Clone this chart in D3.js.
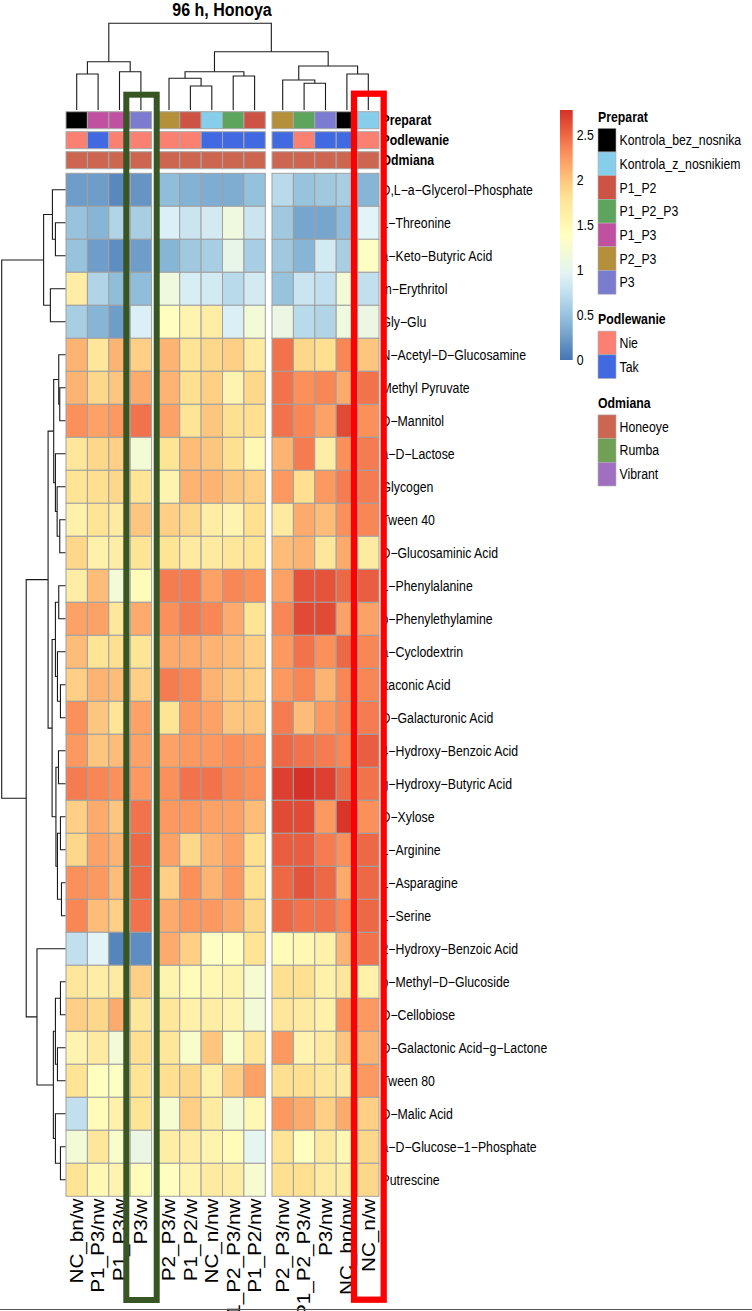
<!DOCTYPE html>
<html><head><meta charset="utf-8">
<script src="https://cdn.jsdelivr.net/npm/d3@7"></script>
<style>body{margin:0;background:#fff}svg{display:block}text{font-family:"Liberation Sans",Arial,sans-serif}</style>
</head><body><svg id="c" width="752" height="1311"></svg>
<script>
// ---------------- DATA ----------------
const title = "96 h, Honoya";
const rowNames = ["D,L-a-Glycerol-Phosphate","L-Threonine","a-Keto-Butyric Acid","m-Erythritol","Gly-Glu",
 "N-Acetyl-D-Glucosamine","Methyl Pyruvate","D-Mannitol","a-D-Lactose","Glycogen","Tween 40",
 "D-Glucosaminic Acid","L-Phenylalanine","b-Phenylethylamine","a-Cyclodextrin","Itaconic Acid",
 "D-Galacturonic Acid","4-Hydroxy-Benzoic Acid","g-Hydroxy-Butyric Acid","D-Xylose","L-Arginine",
 "L-Asparagine","L-Serine","2-Hydroxy-Benzoic Acid","b-Methyl-D-Glucoside","D-Cellobiose",
 "D-Galactonic Acid-g-Lactone","Tween 80","D-Malic Acid","a-D-Glucose-1-Phosphate","Putrescine"];
const colNames = ["NC_bn/w","P1_P3/nw","P1_P3/w","P3/w","P2_P3/w","P1_P2/w","NC_n/nw","P1_P2_P3/nw",
 "P1_P2/nw","P2_P3/nw","P1_P2_P3/w","P3/nw","NC_bn/nw","NC_n/w"];
const colGroupSizes = [4,5,5];
const colPreparat = ["Kontrola_bez_nosnika","P1_P3","P1_P3","P3","P2_P3","P1_P2","Kontrola_z_nosnikiem",
 "P1_P2_P3","P1_P2","P2_P3","P1_P2_P3","P3","Kontrola_bez_nosnika","Kontrola_z_nosnikiem"];
const colPodlewanie = ["Nie","Tak","Nie","Nie","Nie","Nie","Tak","Tak","Tak","Tak","Nie","Tak","Tak","Nie"];
const colOdmiana = ["Honeoye","Honeoye","Honeoye","Honeoye","Honeoye","Honeoye","Honeoye","Honeoye",
 "Honeoye","Honeoye","Honeoye","Honeoye","Honeoye","Honeoye"];
const preparatLevels = ["Kontrola_bez_nosnika","Kontrola_z_nosnikiem","P1_P2","P1_P2_P3","P1_P3","P2_P3","P3"];
const preparatColors = ["#000000","#87CEEB","#CD5445","#5DA55D","#C050A0","#B5903A","#7B7BD0"];
const podlewanieLevels = ["Nie","Tak"];
const podlewanieColors = ["#FA8072","#4169E1"];
const odmianaLevels = ["Honeoye","Rumba","Vibrant"];
const odmianaColors = ["#CC6650","#6FA055","#A070C0"];
const legendTicks = [0,0.5,1,1.5,2,2.5];
const valueRange = [0, 2.78];
const paletteRdYlBu = ["#4575B4","#91BFDB","#E0F3F8","#FFFFBF","#FEE090","#FC8D59","#D73027"];
const values = [
 [0.25,0.25,0.12,0.2, 0.45,0.38,0.35,0.35,0.48, 0.7,0.5,0.55,0.6,0.4],
 [0.5,0.4,0.65,0.6, 0.9,0.8,0.85,1.15,0.8, 0.55,0.3,0.3,0.45,0.95],
 [0.5,0.25,0.15,0.25, 0.4,0.55,0.6,1.05,0.6, 0.55,0.4,0.85,0.6,1.35],
 [1.65,0.65,0.45,0.45, 1.15,0.88,0.85,0.7,0.85, 0.5,0.8,0.75,1.2,0.75],
 [0.6,0.4,0.25,0.9, 1.4,1.55,1.65,0.9,1.2, 1.1,0.7,0.65,1.15,1.1],
 [2.1,1.75,2.1,1.95, 2.1,1.8,1.9,1.95,1.7, 2.45,1.9,1.85,2.35,2.0],
 [2.1,1.9,2.0,2.15, 2.1,1.85,1.95,1.55,1.9, 2.45,2.3,2.35,2.15,2.45],
 [2.3,2.2,2.25,2.45, 2.2,1.8,2.0,1.85,1.85, 2.45,2.35,2.2,2.65,2.3],
 [1.75,1.9,1.95,1.2, 1.8,2.05,2.0,1.85,1.5, 2.1,2.4,1.65,2.3,2.4],
 [1.8,1.85,1.9,1.8, 1.55,2.1,2.1,2.0,1.95, 2.25,1.85,2.25,2.4,2.4],
 [1.6,1.8,1.7,2.0, 1.95,1.9,1.65,1.55,1.85, 1.7,2.15,2.05,2.3,2.35],
 [1.9,1.6,1.65,1.8, 1.8,1.7,1.7,1.75,1.8, 2.05,2.1,1.75,2.15,1.7],
 [1.65,2.05,1.2,1.45, 2.4,2.4,2.2,2.35,2.3, 2.2,2.6,2.6,2.5,2.55],
 [2.2,2.2,1.75,2.15, 2.3,2.4,2.35,2.15,1.8, 2.35,2.65,2.65,2.2,2.2],
 [2.05,1.8,1.85,1.8, 2.15,2.15,2.1,2.05,1.95, 2.25,2.45,2.3,2.5,2.35],
 [1.95,2.1,2.05,1.95, 2.4,2.35,2.1,2.0,1.95, 2.25,2.35,2.1,2.35,2.35],
 [2.3,2.0,1.8,2.2, 1.8,2.25,2.2,2.0,2.0, 2.4,2.05,2.25,2.35,2.4],
 [2.25,2.0,2.05,2.2, 2.2,2.25,2.25,2.3,2.25, 2.5,2.45,2.4,2.35,2.55],
 [2.4,2.35,2.3,2.25, 2.3,2.45,2.45,2.35,2.3, 2.7,2.78,2.7,2.5,2.45],
 [1.95,2.15,2.0,2.45, 2.25,2.25,2.2,2.2,2.05, 2.65,2.65,2.25,2.75,2.3],
 [1.9,2.2,2.1,2.5, 2.2,1.9,2.1,2.2,1.85, 2.55,2.55,2.4,2.3,2.5],
 [2.3,2.25,2.05,2.5, 1.95,2.3,2.1,2.25,1.85, 2.5,2.6,2.5,2.15,2.5],
 [2.35,2.05,1.95,2.45, 2.15,2.25,2.25,2.15,1.9, 2.5,2.45,2.45,2.35,2.5],
 [0.75,0.95,0.1,0.15, 2.15,1.95,1.35,1.4,1.8, 1.45,1.5,1.6,2.1,2.45],
 [1.75,1.65,1.7,1.95, 1.55,1.45,1.5,1.55,1.25, 1.85,1.85,1.6,1.75,1.6],
 [1.95,1.9,2.15,1.75, 1.75,1.6,1.65,1.55,1.2, 1.75,1.7,1.6,2.3,2.25],
 [1.55,1.7,1.2,1.85, 1.75,1.3,2.0,1.3,1.75, 2.25,1.55,1.7,2.0,2.1],
 [1.8,1.4,1.35,1.8, 1.85,1.9,1.6,1.95,2.2, 1.85,1.85,1.75,1.7,2.25],
 [0.75,1.45,1.6,1.8, 1.25,1.95,1.7,1.2,1.5, 2.25,2.15,1.95,2.15,1.95],
 [1.2,1.75,1.3,1.1, 1.65,1.65,1.55,1.45,1.0, 1.8,1.4,1.7,1.5,1.9],
 [1.8,1.5,1.55,1.45, 1.4,1.55,1.7,1.65,1.25, 1.85,1.85,1.7,1.65,1.9]
];
// dendrograms: [mergeHeight, left, right]; leaves = index
const colTree = [10,[5.57,[4.15,0,1],[4.42,2,3]],
  [6.72,[4.42,[3.66,4,[2.77,5,6]],[3.92,7,8]],[5.07,[3.46,9,[3.08,10,11]],[4.15,12,13]]]];
const rowTree = [10,
  [3.43,[2.05,0,[1.58,1,2]],[2.37,3,4]],
  [6.16,
    [2.73,
      [1.85,[1.06,5,[0.9,6,7]],[1.58,8,[1.31,9,[0.9,10,11]]]],
      [2.1,[1.58,[1.06,12,13],[1.26,14,[0.79,15,16]]],[1.5,[1.1,17,18],[1.26,[0.79,19,20],[0.63,21,22]]]]],
    [4.47,23,[1.9,[1.58,[0.79,24,25],[1.26,26,27]],[1.58,28,[0.79,29,30]]]]]];

// ---------------- LAYOUT ----------------
const svg = d3.select("#c");
const FONT = 12.3, SY = 1.15;
const hmLeft = 66, cellW = 21.4, gap = 6.7, hmTop = 173.3, hmBottom = 1196.3;
const groupOf = i => { let s=0; for (let g=0; g<colGroupSizes.length; g++){ s+=colGroupSizes[g]; if(i<s) return g;} return 0; };
const xBand = d3.scaleBand().domain(d3.range(colNames.length)).range([hmLeft, hmLeft + cellW*colNames.length]);
const xPos = i => xBand(i) + groupOf(i)*gap;
const xMid = i => xPos(i) + xBand.bandwidth()/2;
const yBand = d3.scaleBand().domain(d3.range(rowNames.length)).range([hmTop, hmBottom]);
const yMid = i => yBand(i) + yBand.bandwidth()/2;
const color = d3.scaleLinear().domain(d3.range(7).map(k => valueRange[0] + k*(valueRange[1]-valueRange[0])/6)).range(paletteRdYlBu).clamp(true);

function txt(x, y, s, o={}) {
  const t = svg.append("text")
    .attr("transform", o.rot ? `translate(${x},${y}) rotate(-90) scale(${SY},1)` : `translate(${x},${y}) scale(1,${o.sy||SY})`)
    .attr("dy","0.35em").attr("font-size", o.size||FONT).attr("font-weight", o.weight||"normal")
    .attr("text-anchor", o.anchor||"start").attr("fill","#000").text(s);
  return t;
}
const disp = s => s.replace(/-/g, "\u2212");

// title
txt(222, 9.5, title, {size:16, weight:"bold", anchor:"middle", sy:1.1});

// heatmap cells
const cells = svg.append("g");
values.forEach((row, r) => row.forEach((v, c) => {
  cells.append("rect").attr("x", xPos(c)).attr("y", yBand(r)).attr("width", xBand.bandwidth()).attr("height", yBand.bandwidth())
    .attr("fill", color(v)).attr("stroke", "#A0A0A0").attr("stroke-width", 1);
}));

// annotation rows
const annRows = [
  {name:"Preparat", vals:colPreparat, sc:d3.scaleOrdinal(preparatLevels, preparatColors)},
  {name:"Podlewanie", vals:colPodlewanie, sc:d3.scaleOrdinal(podlewanieLevels, podlewanieColors)},
  {name:"Odmiana", vals:colOdmiana, sc:d3.scaleOrdinal(odmianaLevels, odmianaColors)}
];
const annY = d3.scaleBand().domain(d3.range(annRows.length)).range([110.7, 170.7]);
annRows.forEach((a, k) => {
  a.vals.forEach((v, c) => svg.append("rect").attr("x", xPos(c)).attr("y", annY(k)+1).attr("width", xBand.bandwidth())
    .attr("height", annY.bandwidth()-3).attr("fill", a.sc(v)).attr("stroke","#A8A8A8").attr("stroke-width",1));
  txt(381.5, annY(k)+1+(annY.bandwidth()-3)/2, a.name, {weight:"bold"});
});

// row labels
rowNames.forEach((n, r) => txt(381.5, yMid(r), disp(n)));
// column labels
colNames.forEach((n, c) => txt(xMid(c), 1198.5, n, {rot:true, size:18, anchor:"end"}));

// dendrogram drawing
function layoutTree(tree, leafPos) {
  const root = d3.hierarchy(tree, d => Array.isArray(d) ? d.slice(1) : null);
  root.eachAfter(n => {
    if (n.children) { n.h = n.data[0]; n.p = (n.children[0].p + n.children[1].p)/2; }
    else { n.h = 0; n.p = leafPos(n.data); }
  });
  return root;
}
const dg = svg.append("g").attr("fill","none").attr("stroke","#1a1a1a").attr("stroke-width",1.1);
// columns (vertical)
const colH = d3.scaleLinear().domain([0, 10]).range([110, 23.3]);
layoutTree(colTree, xMid).each(n => {
  if (!n.children) return;
  const [a, b] = n.children, y = colH(n.h);
  dg.append("path").attr("d", `M${a.p},${colH(a.h)}V${y}H${b.p}V${colH(b.h)}`);
});
// rows (horizontal)
const rowH = d3.scaleLinear().domain([0, 10]).range([65.5, 1.7]);
layoutTree(rowTree, yMid).each(n => {
  if (!n.children) return;
  const [a, b] = n.children, x = rowH(n.h);
  dg.append("path").attr("d", `M${rowH(a.h)},${a.p}H${x}V${b.p}H${rowH(b.h)}`);
});

// colour legend
const defs = svg.append("defs");
const grad = defs.append("linearGradient").attr("id","g").attr("x1",0).attr("x2",0).attr("y1",1).attr("y2",0);
d3.range(0, 1.0001, 0.05).forEach(t => grad.append("stop").attr("offset", t).attr("stop-color", color(valueRange[0] + t*(valueRange[1]-valueRange[0]))));
const legY = d3.scaleLinear().domain(valueRange).range([360, 110]);
svg.append("rect").attr("x",560).attr("y",legY(valueRange[1])).attr("width",12.7).attr("height",legY(valueRange[0])-legY(valueRange[1])).attr("fill","url(#g)");
legendTicks.forEach(v => txt(576.7, legY(v), String(v)));

// annotation legends
function catLegend(titleStr, levels, cols, top) {
  txt(598, top, titleStr, {weight:"bold"});
  const sy = d3.scaleBand().domain(levels).range([top+11.6, top+11.6+23.7*levels.length]);
  levels.forEach((l, i) => {
    svg.append("rect").attr("x",598).attr("y",sy(l)).attr("width",18).attr("height",sy.bandwidth())
      .attr("fill", cols[i]).attr("stroke","#B0B0B0").attr("stroke-width",0.6);
    txt(619.5, sy(l)+sy.bandwidth()/2, l);
  });
}
catLegend("Preparat", preparatLevels, preparatColors, 116.7);
catLegend("Podlewanie", podlewanieLevels, podlewanieColors, 319.5);
catLegend("Odmiana", odmianaLevels, odmianaColors, 403.3);

// highlight boxes
svg.append("rect").attr("x",126.3).attr("y",94.7).attr("width",30.4).attr("height",1205.3)
  .attr("fill","none").attr("stroke","#375623").attr("stroke-width",6);
svg.append("rect").attr("x",354).attr("y",93.7).attr("width",29.7).attr("height",1206)
  .attr("fill","none").attr("stroke","#FF0000").attr("stroke-width",6.3);
// bottom rule
svg.append("line").attr("x1",0).attr("x2",752).attr("y1",1309.5).attr("y2",1309.5).attr("stroke","#555").attr("stroke-width",1.2);
</script></body></html>
